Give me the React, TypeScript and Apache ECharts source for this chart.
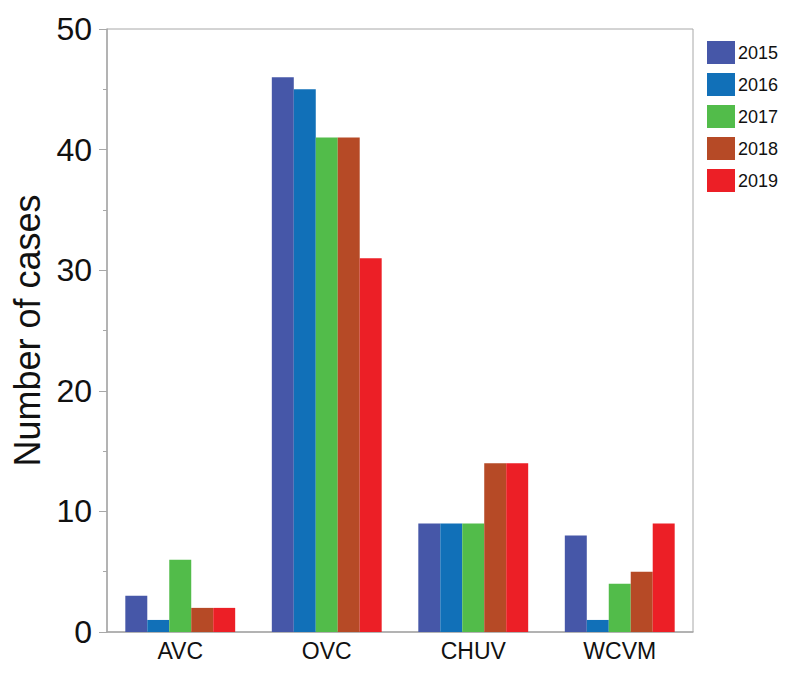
import React, { useEffect, useRef } from "react";
import * as echarts from "echarts";

const categories = ["AVC", "OVC", "CHUV", "WCVM"];
const years = ["2015", "2016", "2017", "2018", "2019"];
const values2015 = [3, 46, 9, 8];
const values2016 = [1, 45, 9, 1];
const values2017 = [6, 41, 9, 4];
const values2018 = [2, 41, 14, 5];
const values2019 = [2, 31, 14, 9];
const colors = ["#4657a8", "#1170b8", "#52bc4a", "#b64a26", "#ec1f26"];
const yTicks = { min: 0, max: 50, interval: 10 };

export default function App() {
  const ref = useRef<HTMLDivElement>(null);
  useEffect(() => {
    document.body.style.margin = "0";
    const chart = echarts.init(ref.current!, null, { renderer: "svg" });
    const seriesData = [values2015, values2016, values2017, values2018, values2019];
    const font = "Liberation Sans, Arial, Helvetica, sans-serif";
    chart.setOption({
      animation: false,
      textStyle: { fontFamily: font },
      grid: {
        left: 107,
        right: 99,
        top: 29,
        bottom: 44,
        show: true,
        borderColor: "#a8a8a8",
        borderWidth: 1,
        containLabel: false,
        outerBoundsMode: "none",
      },
      legend: {
        orient: "vertical",
        left: 702,
        top: 36,
        itemWidth: 28,
        itemHeight: 23,
        itemGap: 9,
        icon: "rect",
        textStyle: { fontSize: 18, color: "#111", fontFamily: font, padding: [0, 0, 0, -2] },
        data: years,
      },
      xAxis: {
        type: "category",
        data: categories,
        axisLine: { lineStyle: { color: "#a8a8a8", width: 1.5 } },
        axisTick: { show: false },
        axisLabel: { fontSize: 23, color: "#111", margin: 7, fontFamily: font },
      },
      yAxis: {
        type: "value",
        min: yTicks.min,
        max: yTicks.max,
        interval: yTicks.interval,
        name: "Number of cases",
        nameLocation: "middle",
        nameGap: 60,
        nameTextStyle: { fontSize: 36, color: "#111", fontFamily: font },
        axisLine: { show: true, lineStyle: { color: "#a8a8a8", width: 1.5 } },
        axisTick: { show: true, length: 8, lineStyle: { color: "#a8a8a8" } },
        minorTick: { show: true, splitNumber: 2, length: 4, lineStyle: { color: "#a8a8a8" } },
        splitLine: { show: false },
        axisLabel: { fontSize: 32, color: "#111", margin: 15, fontFamily: font },
      },
      series: years.map((y, i) => ({
        name: y,
        type: "bar",
        data: seriesData[i],
        barGap: "0%",
        barCategoryGap: "25%",
        itemStyle: { color: colors[i] },
      })),
    });
    return () => chart.dispose();
  }, []);
  return <div ref={ref} style={{ width: 792, height: 676 }} />;
}
